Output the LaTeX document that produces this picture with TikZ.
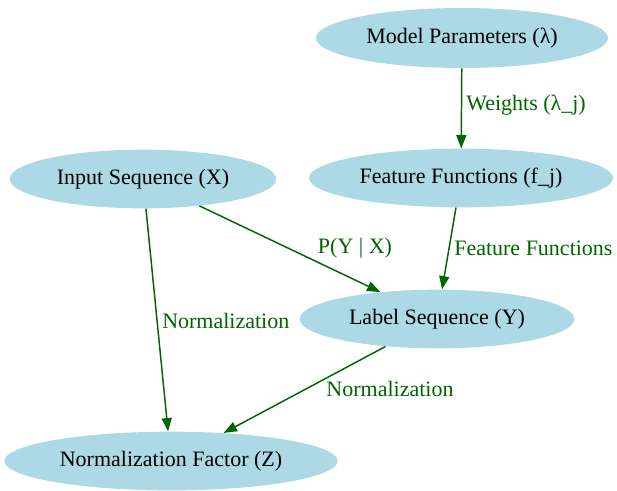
\documentclass[tikz,border=0pt]{standalone}
\usepackage{fontspec}
\setmainfont{Liberation Serif}
\usetikzlibrary{shapes.geometric,arrows.meta}
\definecolor{nodefill}{HTML}{ADD8E6}
\definecolor{edgegreen}{HTML}{006400}
\tikzset{
  ell/.style={ellipse, fill=nodefill, draw=none, inner sep=0pt, font=\fontsize{16.5}{19}\selectfont},
  conn/.style={draw=edgegreen, line width=1.1pt, -{Triangle[length=10pt,width=7.5pt]}},
  elab/.style={text=edgegreen, font=\fontsize{16.5}{19}\selectfont, inner sep=0pt}
}
\begin{document}
\begin{tikzpicture}[x=0.75pt,y=-0.75pt]
\useasboundingbox (0,0) rectangle (617,490);
\node[ell, minimum width=219pt, minimum height=45pt] (mp) at (462,38) {\makebox[0pt]{Model Parameters (λ)}};
\node[ell, minimum width=200pt, minimum height=44pt] (in) at (143,179) {\makebox[0pt]{Input Sequence (X)}};
\node[ell, minimum width=228pt, minimum height=44pt] (ff) at (461,178) {\makebox[0pt]{Feature Functions (f\_j)}};
\node[ell, minimum width=206pt, minimum height=44pt] (ls) at (437,319) {\makebox[0pt]{Label Sequence (Y)}};
\node[ell, minimum width=250pt, minimum height=44pt] (nf) at (171,461) {\makebox[0pt]{Normalization Factor (Z)}};
\draw[conn] (mp) -- (ff);
\draw[conn] (in) -- (ls);
\draw[conn] (ff) -- (ls);
\draw[conn] (in) -- (nf);
\draw[conn] (ls) -- (nf);
\node[elab, anchor=west] (l1) at (466,105) {Weights (λ\_j)};
\node[elab] (l2) at (355,248) {P(Y | X)};
\node[elab, anchor=west] (l3) at (454,248) {Feature Functions};
\node[elab, anchor=west] (l4) at (162,321) {Normalization};
\node[elab] (l5) at (390,389) {Normalization};
\end{tikzpicture}
\end{document}
